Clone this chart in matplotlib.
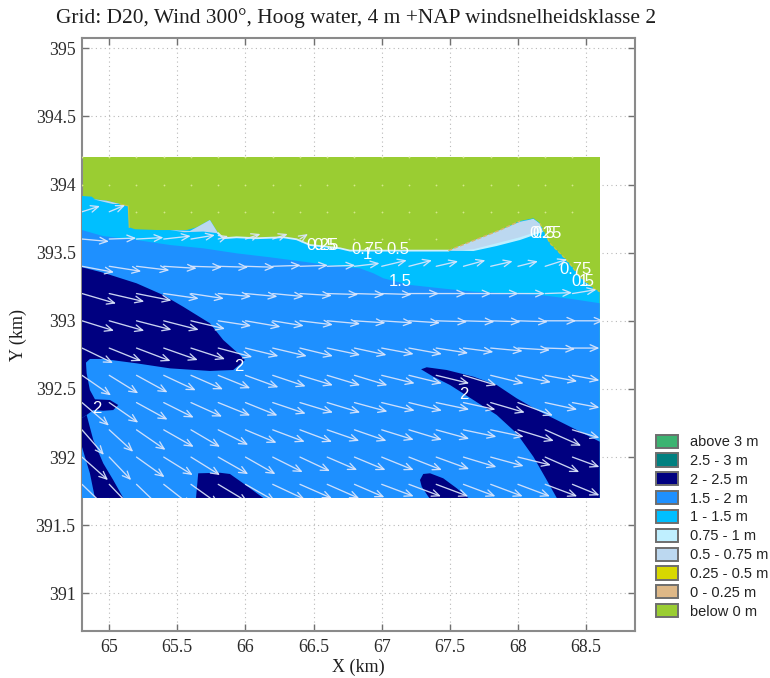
import numpy as np
import matplotlib
matplotlib.use("Agg")
import matplotlib.pyplot as plt
from matplotlib.patches import Patch, Rectangle

TITLE = "Grid: D20, Wind 300°, Hoog water, 4 m +NAP windsnelheidsklasse 2"
x_ticks = [65, 65.5, 66, 66.5, 67, 67.5, 68, 68.5]
x_tick_labels = ["65", "65.5", "66", "66.5", "67", "67.5", "68", "68.5"]
y_ticks = [391, 391.5, 392, 392.5, 393, 393.5, 394, 394.5, 395]
y_tick_labels = ["391", "391.5", "392", "392.5", "393", "393.5", "394", "394.5", "395"]

legend_labels = ["above 3 m", "2.5 - 3 m", "2 - 2.5 m", "1.5 - 2 m", "1 - 1.5 m",
                 "0.75 - 1 m", "0.5 - 0.75 m", "0.25 - 0.5 m", "0 - 0.25 m", "below 0 m"]
legend_colors = ["#3CB371", "#008080", "#000080", "#1E90FF", "#00BFFF",
                 "#BFEFFF", "#BCD8F0", "#D8D800", "#DEB887", "#9ACD32"]

# Extent of the computed grid (km)
grid_x = [64.8, 68.6]
grid_y = [391.7, 394.2]

# Water line, west to east (km)
coast = [(64.8, 393.916), (64.871, 393.911), (64.895, 393.892), (64.981, 393.881), (65.079, 393.857),
         (65.14, 393.843), (65.147, 393.686), (65.189, 393.672), (65.348, 393.666), (65.446, 393.666),
         (65.568, 393.666), (65.642, 393.686), (65.739, 393.74), (65.80, 393.642), (65.837, 393.606),
         (65.935, 393.613), (66.082, 393.606), (66.278, 393.613), (66.376, 393.598), (66.474, 393.556),
         (66.596, 393.544), (66.694, 393.532), (66.767, 393.515), (66.936, 393.515), (67.489, 393.515),
         (67.624, 393.569), (67.869, 393.666), (68.015, 393.732), (68.113, 393.752), (68.162, 393.716),
         (68.235, 393.569), (68.358, 393.446), (68.456, 393.324), (68.554, 393.239), (68.6, 393.214)]

# Boundary between the 1 - 1.5 m and 1.5 - 2 m bands (km)
band_15 = [(64.8, 393.666), (64.954, 393.622), (65.20, 393.593), (65.446, 393.556), (65.69, 393.532),
           (65.935, 393.495), (66.18, 393.466), (66.424, 393.434), (66.62, 393.406), (66.84, 393.385),
           (66.938, 393.349), (67.012, 393.312), (67.208, 393.263), (67.428, 393.239), (67.672, 393.214),
           (67.918, 393.202), (68.162, 393.19), (68.407, 393.158), (68.6, 393.129)]

# 2 - 2.5 m areas (km)
deep_a = [(64.8, 393.393), (64.956, 393.353), (65.201, 393.275), (65.396, 393.189), (65.543, 393.103),
          (65.739, 392.982), (65.837, 392.859), (65.96, 392.749), (65.996, 392.712), (65.91, 392.639),
          (65.739, 392.632), (65.446, 392.651), (65.201, 392.688), (64.956, 392.72), (64.858, 392.72),
          (64.829, 392.693), (64.834, 392.615), (64.858, 392.492), (64.895, 392.424), (65.005, 392.419),
          (65.066, 392.382), (65.029, 392.345), (64.956, 392.34), (64.883, 392.345), (64.834, 392.309),
          (64.8, 392.287)]
deep_b = [(64.8, 392.287), (64.834, 392.309), (64.883, 392.125), (64.956, 391.954), (65.029, 391.832),
          (65.103, 391.7), (64.895, 391.7), (64.858, 391.881), (64.8, 392.074)]
deep_c = [(65.653, 391.881), (65.813, 391.885), (65.886, 391.876), (65.984, 391.807), (66.131, 391.7),
          (65.637, 391.7)]
deep_d = [(67.289, 392.644), (67.33, 392.659), (67.477, 392.639), (67.673, 392.59), (67.844, 392.529),
          (67.991, 392.431), (68.162, 392.333), (68.285, 392.272), (68.407, 392.211), (68.6, 392.113),
          (68.6, 391.7), (68.285, 391.7), (68.211, 391.832), (68.113, 392.003), (67.991, 392.174),
          (67.844, 392.309), (67.673, 392.419), (67.501, 392.529), (67.379, 392.59)]
deep_e = [(67.281, 391.832), (67.305, 391.876), (67.355, 391.881), (67.452, 391.844), (67.551, 391.771),
          (67.636, 391.7), (67.349, 391.7), (67.294, 391.782)]

# Shallow slivers along the water line (km)
shallow_050_a = [(64.883, 393.892), (64.981, 393.881), (65.079, 393.857), (65.027, 393.857), (64.954, 393.874)]
shallow_050_b = [(65.446, 393.666), (65.592, 393.659), (65.642, 393.686), (65.739, 393.74), (65.80, 393.642),
                 (65.69, 393.655), (65.55, 393.65)]
shallow_075_c = [(67.489, 393.515), (67.624, 393.569), (68.113, 393.747), (68.162, 393.71), (68.184, 393.652),
                 (68.015, 393.593), (67.844, 393.549), (67.673, 393.512)]
shallow_050_c = [(67.501, 393.515), (67.624, 393.569), (67.869, 393.666), (68.015, 393.727), (68.113, 393.747),
                 (68.162, 393.71), (68.138, 393.654), (68.015, 393.613), (67.844, 393.569), (67.673, 393.525),
                 (67.551, 393.515)]

# Contour labels: text, x km, y km
contour_labels = [("0.25", 66.569, 393.549), ("0.5", 66.58, 393.549), ("0.75", 66.892, 393.52), ("1", 66.892, 393.49),
                  ("0.5", 67.12, 393.52), ("1.5", 67.134, 393.292), ("0.25", 68.2, 393.644), ("0.5", 68.19, 393.644),
                  ("0.75", 68.42, 393.38), ("0.5", 68.478, 393.292), ("1", 68.478, 393.292),
                  ("2", 65.952, 392.668), ("2", 64.91, 392.36), ("2", 67.604, 392.456)]

# Flow vectors: tails in km, components in metres on the map
vec_x = [64.8, 65.0, 65.2, 65.4, 65.6, 65.8, 66.0, 66.2, 66.4, 66.6,
         66.8, 67.0, 67.2, 67.4, 67.6, 67.8, 68.0, 68.2, 68.4]
vec_y = [393.8, 393.6, 393.4, 393.2, 393.0, 392.8, 392.6, 392.4, 392.2, 392.0, 391.8]
n = np.nan
u_rows = [
    [132, 117, n, n, n, n, n, n, n, n, n, n, n, n, n, n, n, n, n],
    [198, 198, 198, 198, 176, 73, 110, 110, 59, n, n, n, n, n, n, n, n, n, n],
    [235, 235, 242, 242, 228, 220, 213, 206, 206, 206, 184, 184, 169, 161, 161, 161, 147, 161, n],
    [250, 257, 257, 257, 242, 242, 235, 228, 235, 228, 220, 220, 220, 220, 206, 206, 198, 198, 176],
    [235, 257, 257, 257, 250, 242, 257, 228, 242, 242, 228, 228, 228, 228, 228, 220, 220, 228, 228],
    [228, 235, 250, 250, 250, 250, 242, 250, 242, 242, 235, 235, 242, 235, 220, 235, 235, 220, 198],
    [213, 213, 228, 235, 235, 235, 242, 242, 242, 242, 242, 242, 242, 242, 242, 242, 242, 235, 198],
    [198, 213, 228, 220, 228, 235, 235, 242, 242, 242, 242, 242, 242, 242, 235, 250, 257, 235, 198],
    [161, 176, 213, 220, 213, 220, 228, 235, 235, 235, 235, 235, 242, 242, 242, 242, 264, 264, 198],
    [191, 161, 206, 213, 213, 220, 220, 220, 220, 220, 228, 235, 242, 242, 242, 242, 242, 250, 198],
    [191, 176, 191, 206, 206, 220, 220, 235, 235, 235, 220, 235, 235, 235, 235, 235, 235, 235, 198],
]
v_rows = [
    [42, 49, n, n, n, n, n, n, n, n, n, n, n, n, n, n, n, n, n],
    [-18, 7, 11, 22, 29, 22, 37, 37, 37, n, n, n, n, n, n, n, n, n, n],
    [-44, -37, -29, -15, -7, -7, -7, 7, 7, 7, 22, 44, 44, 37, 44, 37, 37, 51, n],
    [-73, -59, -51, -37, -37, -22, -22, -22, -15, -7, -7, -7, 0, 0, 0, 0, 0, 7, 29],
    [-73, -73, -66, -66, -59, -37, -44, -37, -29, -22, -15, -15, -15, -7, -7, -7, -7, 0, 0],
    [-110, -95, -95, -88, -81, -66, -59, -59, -59, -51, -51, -44, -44, -37, -29, -22, -15, -7, 0],
    [-147, -132, -125, -110, -103, -95, -88, -81, -73, -73, -73, -59, -59, -59, -73, -59, -51, -44, -37],
    [-169, -147, -125, -110, -103, -95, -95, -81, -73, -73, -66, -59, -59, -51, -51, -73, -95, -51, -37],
    [-184, -161, -147, -125, -125, -110, -95, -88, -88, -81, -81, -73, -73, -66, -51, -51, -81, -117, -59],
    [-169, -169, -147, -132, -132, -125, -125, -110, -103, -95, -95, -95, -95, -88, -73, -66, -59, -110, -73],
    [-184, -184, -184, -161, -147, -132, -125, -110, -103, -103, -95, -88, -88, -88, -88, -88, -88, -88, -81],
]

# Dry nodes of the vector grid (km)
dry_y = [394.2, 394.0, 393.8, 393.6]
dry_first = [64.8, 64.8, 65.2, 66.6]

W, H = 770, 678
plt.rcParams["font.family"] = ["Liberation Serif", "DejaVu Serif"]
fig = plt.figure(figsize=(W / 100, H / 100), dpi=100)
ax = fig.add_axes([82 / W, 1 - 630.7 / H, (634.7 - 82) / W, (630.7 - 38.3) / H])
ax.set_xlim(64.8, 68.857)
ax.set_ylim(390.726, 395.073)

def fill(pts, color, z):
    xs, ys = zip(*pts)
    ax.fill(xs, ys, color=color, lw=0, zorder=z)

box = [(grid_x[0], grid_y[0]), (grid_x[1], grid_y[0]), (grid_x[1], grid_y[1]), (grid_x[0], grid_y[1])]
fill(box, legend_colors[9], 2)
fill(coast + [(grid_x[1], grid_y[0]), (grid_x[0], grid_y[0])], legend_colors[4], 3)
fill(band_15 + [(grid_x[1], grid_y[0]), (grid_x[0], grid_y[0])], legend_colors[3], 4)
for poly in (deep_a, deep_b, deep_c, deep_d, deep_e):
    fill(poly, legend_colors[2], 5)
fill(shallow_075_c, legend_colors[5], 5)
for poly in (shallow_050_a, shallow_050_b, shallow_050_c):
    fill(poly, legend_colors[6], 6)

# Thin fringes along the water line
cx, cy = zip(*coast)
ax.plot(cx[13:25], cy[13:25], color="#CFEFFC", lw=1.3, zorder=6)
ax.plot(cx[24:28], cy[24:28], color="#D8B86A", lw=1.0, ls=(0, (3, 1.5)), zorder=7)
ax.plot(cx[29:35], cy[29:35], color="#C8C840", lw=0.9, ls=(0, (3, 1.5)), zorder=7)
ax.plot(cx[4:7], cy[4:7], color="#C8C840", lw=0.8, zorder=7)

# Dry nodes
for yy, first in zip(dry_y, dry_first):
    xs = [v for v in vec_x if v >= first and (yy > 393.7 or v <= 67.4)]
    ax.plot(xs, [yy] * len(xs), ls="", marker="o", ms=1.3, mew=0, color="#D4E88A", zorder=7)

# Flow vectors with open heads
clip = Rectangle((grid_x[0], grid_y[0]), grid_x[1] - grid_x[0], grid_y[1] - grid_y[0], transform=ax.transData)
for yy, ur, vr in zip(vec_y, u_rows, v_rows):
    for xx, uu, vv in zip(vec_x, ur, vr):
        if np.isnan(uu):
            continue
        ann = ax.annotate("", xy=(xx + uu / 1000, yy + vv / 1000), xytext=(xx, yy), zorder=8,
                          arrowprops=dict(arrowstyle="->,head_length=0.55,head_width=0.24", mutation_scale=10,
                                          color="#DCE6FB", lw=0.95, alpha=0.92, shrinkA=0, shrinkB=0))
        ann.arrow_patch.set_clip_path(clip)

for txt, lx, ly in contour_labels:
    ax.text(lx, ly, txt, color="white", family=["Liberation Sans"], fontsize=12, ha="center", va="center", zorder=9)

# Axes styling
ax.set_axisbelow(True)
ax.set_xticks(x_ticks, x_tick_labels)
ax.set_yticks(y_ticks, y_tick_labels)
ax.grid(True, color="#B8B8B8", lw=0.8, ls=(0, (1, 3)))
ax.tick_params(direction="in", length=5, width=1.0, color="#707070", top=True, right=True,
               labelsize=12.8, labelcolor="#2A2A2A")
ax.tick_params(axis="x", pad=5.8)
ax.tick_params(axis="y", pad=4.5)
for s in ax.spines.values():
    s.set_color("#8A8A8A")
    s.set_linewidth(1.5)

fig.text(356.5 / W, 1 - 18 / H, TITLE, fontsize=15.4, ha="center", va="center", color="#1E1E1E")
fig.text(358 / W, 1 - 667 / H, "X (km)", fontsize=13, ha="center", va="center", color="#1E1E1E")
fig.text(18 / W, 1 - 335 / H, "Y (km)", fontsize=13, ha="center", va="center", rotation=90, color="#1E1E1E")

handles = [Patch(facecolor=c, edgecolor="#6E6E6E", linewidth=1.4) for c in legend_colors]
fig.legend(handles, legend_labels, loc="upper left", bbox_to_anchor=(656 / W, 1 - 434.5 / H), frameon=False,
           prop={"family": "Liberation Sans", "size": 10.5}, handlelength=1.5, handleheight=1.02,
           labelspacing=0.29, handletextpad=0.8, borderpad=0, borderaxespad=0, labelcolor="#222222")

fig.savefig("out.png", dpi=100)
